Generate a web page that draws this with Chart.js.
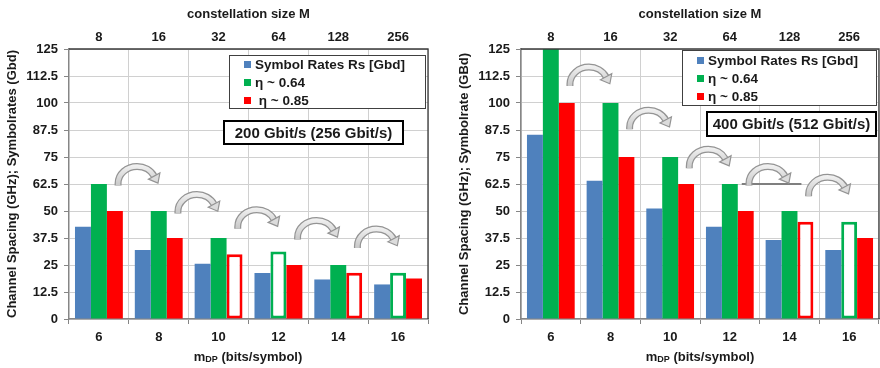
<!DOCTYPE html>
<html>
<head>
<meta charset="utf-8">
<script src="https://cdn.jsdelivr.net/npm/chart.js@4.4.1/dist/chart.umd.min.js"></script>
<style>
body{margin:0;background:#fff;font-family:"Liberation Sans",Arial,sans-serif;color:#1a1a1a;}
.wrap{position:absolute;top:0;width:440px;height:368px;}
.legend{position:absolute;border:1px solid #404040;background:#fff;font-weight:bold;font-size:13.5px;box-sizing:border-box;}
.legend div{position:absolute;left:14px;white-space:nowrap;line-height:16px;}
.legend span{display:inline-block;width:7px;height:7px;margin-right:4px;vertical-align:1px;}
.rate{position:absolute;border:2px solid #000;background:#fff;font-weight:bold;font-size:15px;text-align:center;box-sizing:border-box;}
.xt{position:absolute;font-weight:bold;font-size:13px;white-space:nowrap;transform:translateX(-50%);}
.xt sub{font-size:9px;vertical-align:-1px;}
</style>
</head>
<body>
<div class="wrap" style="left:0">
  <canvas id="c1" width="440" height="368"></canvas>
  <div class="legend" style="left:229px;top:55px;width:197px;height:54px">
    <div style="top:1px"><span style="background:#4F81BD"></span>Symbol Rates Rs [Gbd]</div>
    <div style="top:19px"><span style="background:#00B050"></span>η ~ 0.64</div>
    <div style="top:37px"><span style="background:#FF0000"></span>&nbsp;η ~ 0.85</div>
  </div>
  <div class="rate" style="left:223px;top:120px;width:181px;height:25px;line-height:21px">200 Gbit/s (256 Gbit/s)</div>
  <div class="xt" style="left:248px;top:349px">m<sub>DP</sub> (bits/symbol)</div>
</div>
<div class="wrap" style="left:440px">
  <canvas id="c2" width="440" height="368"></canvas>
  <div class="legend" style="left:242px;top:50px;width:195px;height:56px">
    <div style="top:2px"><span style="background:#4F81BD"></span>Symbol Rates Rs [Gbd]</div>
    <div style="top:20px"><span style="background:#00B050"></span>η ~ 0.64</div>
    <div style="top:38px"><span style="background:#FF0000"></span>η ~ 0.85</div>
  </div>
  <div class="rate" style="left:266px;top:111px;width:171px;height:26px;line-height:22px">400 Gbit/s (512 Gbit/s)</div>
  <div class="xt" style="left:260px;top:349px">m<sub>DP</sub> (bits/symbol)</div>
</div>
<script>
// bits per symbol (bottom axis) and constellation size (top axis)
var mdp=['6','8','10','12','14','16'];
var constellation=['8','16','32','64','128','256'];

// 200 Gbit/s case
var rs200=[42.7,32,25.6,21.3,18.3,16];
var eta064_200=[62.5,50,37.5,31.25,25,21.4];
var eta085_200=[50,37.5,30,25,21.4,18.75];
var open064_200=[false,false,false,true,false,true];
var open085_200=[false,false,true,false,true,false];
var arrows200=[72,59,52,47,43];

// 400 Gbit/s case
var rs400=[85.3,64,51.2,42.7,36.6,32];
var eta064_400=[125,100,75,62.5,50,45];
var eta085_400=[100,75,62.5,50,45,37.5];
var open064_400=[false,false,false,false,false,true];
var open085_400=[false,false,false,false,true,false];
var arrows400=[118,98,80,72,67];

var BLUE='#4F81BD', GREEN='#00B050', RED='#FF0000';
var TXT='#1a1a1a';
var font={family:'"Liberation Sans", Arial, sans-serif',size:13,weight:'bold'};

function drawArrow(ctx,x0,top){
	var rx=19, ry=17, cx=x0+3+rx, cy=top+3+ry;
	var a1=Math.PI, a2=2*Math.PI-0.45;
	ctx.save();
	ctx.lineCap='butt';
	function arch(){
		ctx.beginPath();
		ctx.moveTo(cx-rx,cy+2);
		ctx.ellipse(cx,cy,rx,ry,0,a1,a2);
	}
	arch();
	ctx.strokeStyle='#949494';
	ctx.lineWidth=7;
	ctx.stroke();
	arch();
	var g=ctx.createLinearGradient(0,top,0,top+22);
	g.addColorStop(0,'#f4f4f4');
	g.addColorStop(1,'#c8c8c8');
	ctx.strokeStyle=g;
	ctx.lineWidth=4.5;
	ctx.stroke();
	// head
	var ex=cx+rx*Math.cos(a2), ey=cy+ry*Math.sin(a2);
	var dx=-rx*Math.sin(a2), dy=ry*Math.cos(a2);
	var l=Math.sqrt(dx*dx+dy*dy); dx/=l; dy/=l;
	var px=-dy, py=dx;
	ctx.beginPath();
	ctx.moveTo(ex+px*6.5,ey+py*6.5);
	ctx.lineTo(ex+dx*8,ey+dy*8);
	ctx.lineTo(ex-px*6.5,ey-py*6.5);
	ctx.closePath();
	ctx.fillStyle='#dcdcdc';
	ctx.fill();
	ctx.strokeStyle='#949494';
	ctx.lineWidth=1.2;
	ctx.stroke();
	ctx.restore();
}

var decoPlugin={
	id:'deco',
	afterDatasetsDraw:function(chart,args,opts){
		var ctx=chart.ctx, xs=chart.scales.x, ys=chart.scales.y;
		var cw=xs.width/mdp.length;
		if(opts.line){
			ctx.save();
			ctx.strokeStyle='#7f7f7f';
			ctx.lineWidth=2;
			ctx.beginPath();
			var yy=ys.getPixelForValue(opts.line[2]);
			ctx.moveTo(xs.getPixelForValue(opts.line[0])+0.2*cw,yy);
			ctx.lineTo(xs.getPixelForValue(opts.line[1])+0.2*cw,yy);
			ctx.stroke();
			ctx.restore();
		}
		opts.tops.forEach(function(v,i){
			drawArrow(ctx,xs.getPixelForValue(i)+0.27*cw,ys.getPixelForValue(v));
		});
	},
	afterDraw:function(chart){
		var ctx=chart.ctx, a=chart.chartArea;
		ctx.save();
		ctx.strokeStyle='#3a3a3a';
		ctx.lineWidth=1.3;
		ctx.beginPath();
		ctx.moveTo(a.left,a.top);
		ctx.lineTo(a.right,a.top);
		ctx.lineTo(a.right,a.bottom);
		ctx.stroke();
		ctx.restore();
	}
};

function barSet(label,values,color,open){
	return {
		label:label,
		data:values,
		backgroundColor:values.map(function(v,i){return open&&open[i]?'#ffffff':color;}),
		borderColor:color,
		borderWidth:values.map(function(v,i){return open&&open[i]?3:0;}),
		borderSkipped:function(c){return open&&open[c.dataIndex]?false:'start';}
	};
}

function makeChart(id,rs,e64,e85,o64,o85,tops,yTitle,yPad,yWidth,rightPad,line){
	return new Chart(document.getElementById(id),{
		type:'bar',
		data:{
			labels:mdp,
			datasets:[
				barSet('Symbol Rates Rs [Gbd]',rs,BLUE,null),
				barSet('η ~ 0.64',e64,GREEN,o64),
				barSet('η ~ 0.85',e85,RED,o85)
			]
		},
		options:{
			responsive:false,
			animation:false,
			devicePixelRatio:1,
			layout:{padding:{left:0,right:rightPad,top:0,bottom:0}},
			categoryPercentage:0.8,
			barPercentage:1.0,
			plugins:{legend:{display:false},tooltip:{enabled:false},deco:{tops:tops,line:line}},
			scales:{
				x:{
					position:'bottom',
					grid:{color:'#d0d0d0',tickColor:'#868686',tickLength:5,offset:true},
					border:{color:'#868686',width:1.5},
					ticks:{font:font,color:TXT,padding:6,maxRotation:0},
					afterFit:function(s){s.height=49;}
				},
				x2:{
					type:'category',
					labels:constellation,
					position:'top',
					offset:true,
					grid:{display:false,drawTicks:false},
					border:{display:false},
					ticks:{font:font,color:TXT,padding:4},
					title:{display:true,text:'constellation size M',font:font,color:TXT,padding:{top:7,bottom:0}},
					afterFit:function(s){s.height=49;}
				},
				y:{
					min:0,max:125,
					ticks:{stepSize:12.5,font:font,color:TXT,padding:6},
					grid:{color:'#d0d0d0',tickColor:'#868686',tickLength:5},
					border:{color:'#868686',width:1.5},
					title:{display:true,text:yTitle,font:font,color:TXT,padding:{top:yPad,bottom:0}},
					afterFit:function(s){s.width=yWidth;}
				}
			}
		},
		plugins:[decoPlugin]
	});
}

makeChart('c1',rs200,eta064_200,eta085_200,open064_200,open085_200,arrows200,
	'Channel Spacing (GHz); Symbolrates (Gbd)',5,69,12,null);
makeChart('c2',rs400,eta064_400,eta085_400,open064_400,open085_400,arrows400,
	'Channel Spacing (GHz); Symbolrate (GBd)',17,81,1,[3,4,62.5]);
</script>
</body>
</html>
